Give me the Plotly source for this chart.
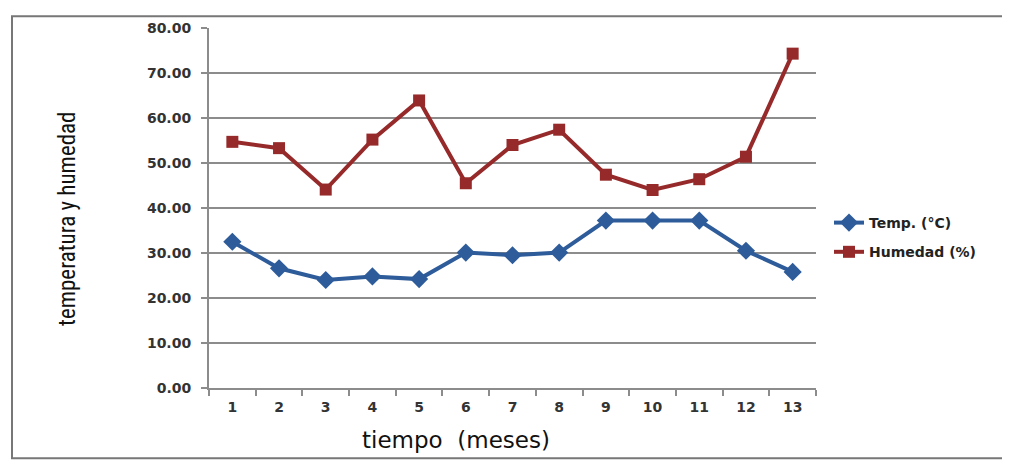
import plotly.graph_objects as go

meses = [str(i) for i in range(1, 14)]
temp = [32.5, 26.6, 24.0, 24.8, 24.2, 30.1, 29.5, 30.1, 37.2, 37.2, 37.2, 30.5, 25.8]
humedad = [54.7, 53.3, 44.1, 55.2, 63.9, 45.5, 54.0, 57.4, 47.4, 44.0, 46.4, 51.4, 74.3]
y_ticks = [0, 10, 20, 30, 40, 50, 60, 70, 80]

BLUE = "#2E5C9A"
RED = "#962A2A"
GRID = "#8c8c8c"

OFF = 8  # default body margin of the html page
W, H = 1010 - OFF, 461 - OFF
L, R, T, B = 209 - OFF, 1010 - 816, 24 - OFF, 461 - 388
pw, ph = W - L - R, H - T - B

def px(x):
    return (x - OFF - L) / pw

def py(y):
    return 1 - (y - OFF - T) / ph

fig = go.Figure()
fig.add_trace(go.Scatter(
    x=meses, y=temp, name="Temp. (°C)", mode="lines+markers", legendgroup="a",
    line=dict(color=BLUE, width=4),
    marker=dict(symbol="diamond", size=14, color=BLUE),
))
fig.add_trace(go.Scatter(
    x=meses, y=humedad, name="Humedad (%)", mode="lines+markers", legendgroup="b",
    line=dict(color=RED, width=4),
    marker=dict(symbol="square", size=12, color=RED),
))

tickfont = dict(family="DejaVu Sans, Verdana, sans-serif", size=14, weight="bold", color="#333333")

fig.update_layout(
    width=W, height=H,
    margin=dict(l=L, r=R, t=T, b=B),
    paper_bgcolor="white", plot_bgcolor="white",
    font=dict(family="DejaVu Sans, Verdana, sans-serif", color="#333333"),
    legend=dict(
        x=px(829), y=py(205), xanchor="left", yanchor="top",
        font=dict(family="DejaVu Sans, Verdana, sans-serif", size=14, weight="bold", color="#222222"),
        bgcolor="rgba(0,0,0,0)", itemwidth=30, tracegroupgap=8,
    ),
    xaxis=dict(
        type="category", range=[-0.5, 12.5],
        showgrid=False, showline=True, linecolor=GRID, linewidth=2,
        ticks="outside", tickson="boundaries", ticklen=6, tickcolor=GRID, tickwidth=2,
        tickfont=tickfont, ticklabelstandoff=5,
    ),
    yaxis=dict(
        range=[0, 80], tickvals=y_ticks, tickformat=".2f",
        showgrid=True, gridcolor=GRID, gridwidth=2, zeroline=False,
        showline=True, linecolor=GRID, linewidth=2,
        ticks="outside", ticklen=6, tickcolor=GRID, tickwidth=2,
        tickfont=tickfont, ticklabelstandoff=7,
    ),
    annotations=[
        dict(
            text="tiempo  (meses)", xref="paper", yref="paper",
            x=px(456), y=py(441), xanchor="center", yanchor="middle", showarrow=False,
            font=dict(family="DejaVu Sans, Verdana, sans-serif", size=23, color="#111111"),
        ),
        dict(
            text="temperatura y humedad", xref="paper", yref="paper", textangle=-90,
            x=px(68), y=py(217), xanchor="center", yanchor="middle", showarrow=False,
            font=dict(family="Liberation Sans Narrow, Arial Narrow, Roboto Condensed, Liberation Sans", size=23, color="#111111"),
        ),
    ],
    shapes=[dict(
        type="rect", xref="paper", yref="paper",
        x0=px(12), x1=px(1007), y0=py(459), y1=py(12),
        line=dict(color="#777777", width=2), fillcolor="rgba(0,0,0,0)", layer="below",
    )],
)

fig.write_html("out.html")
